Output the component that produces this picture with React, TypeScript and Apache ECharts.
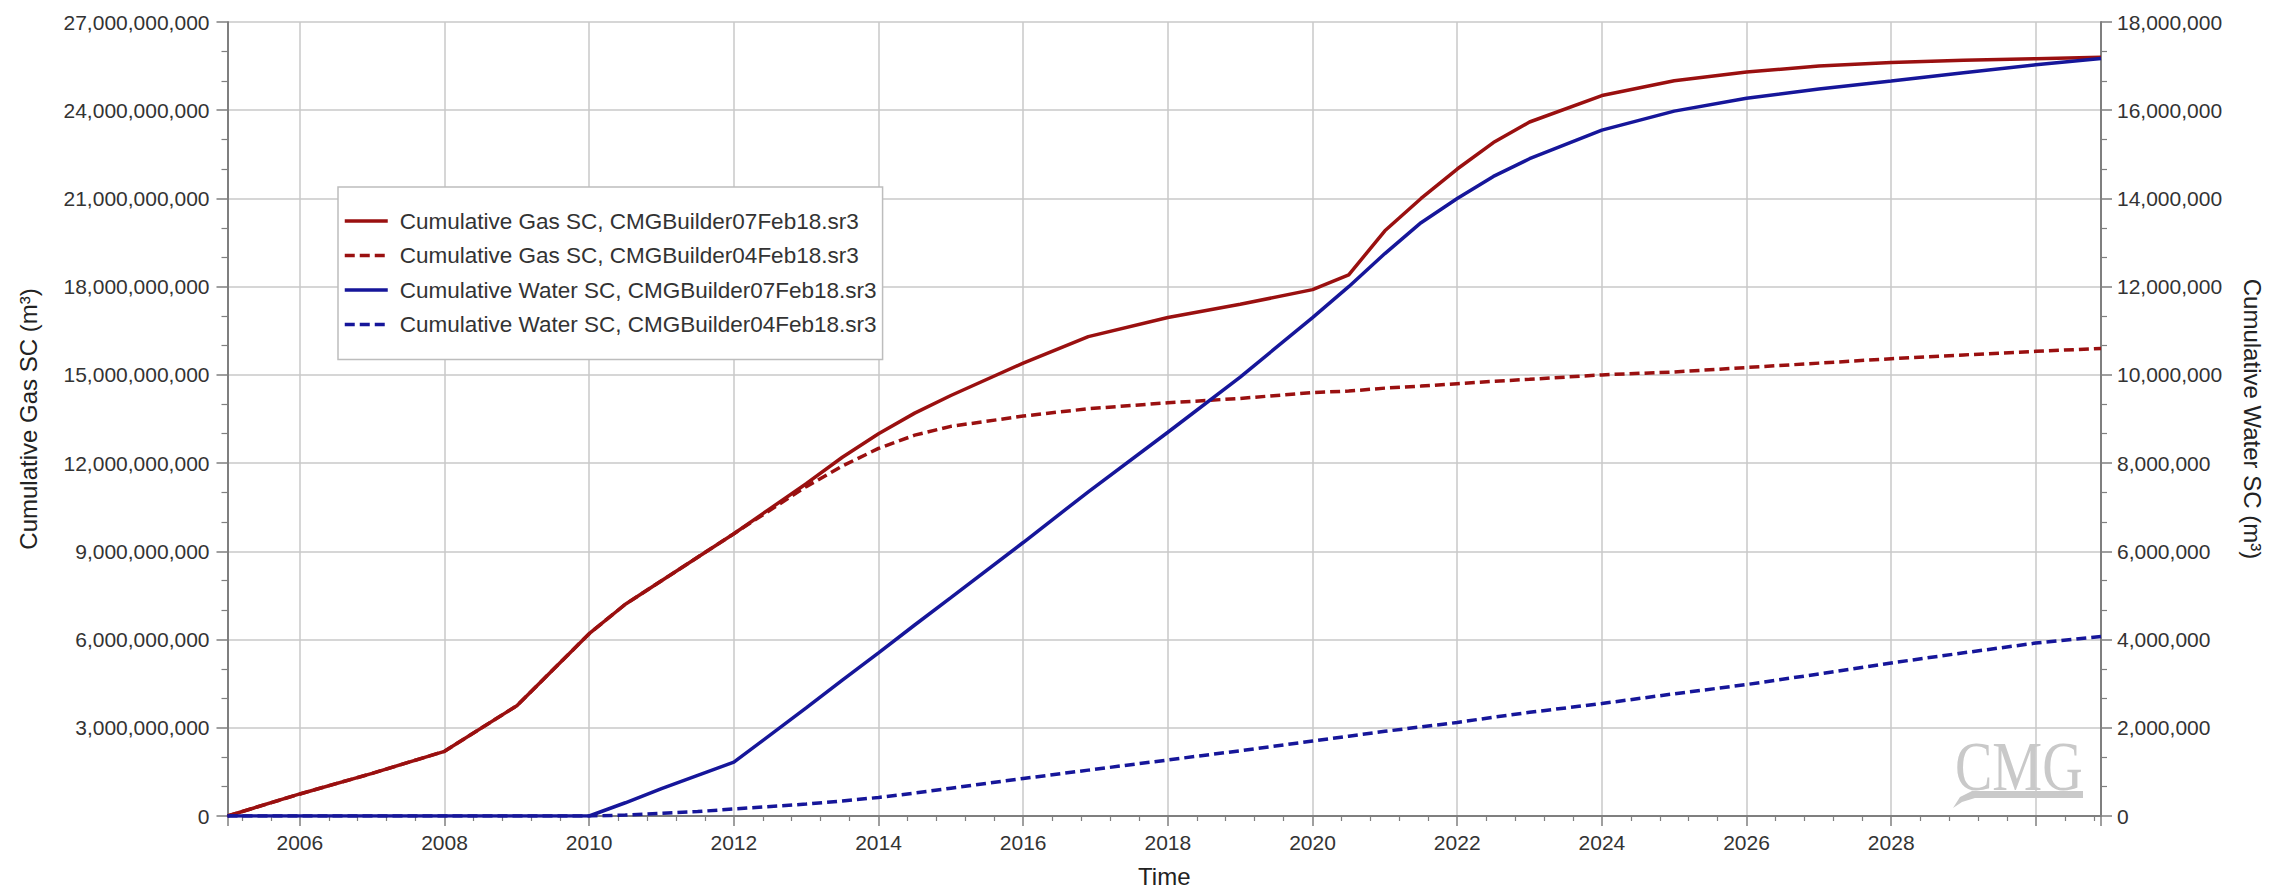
import React, { useEffect, useRef } from "react";
import * as echarts from "echarts";

const years = [2005, 2006, 2007, 2008, 2009, 2010, 2010.5, 2011, 2011.5, 2012, 2013, 2013.5, 2014, 2014.5, 2015, 2016, 2016.9, 2018, 2019, 2020, 2020.5, 2021, 2021.5, 2022, 2022.5, 2023, 2024, 2025, 2026, 2027, 2028, 2029, 2030, 2030.9];

// Cumulative gas, billions of m3
const gas07 = [0, 0.75, 1.45, 2.2, 3.75, 6.2, 7.2, 8.0, 8.8, 9.6, 11.3, 12.2, 13.0, 13.7, 14.3, 15.4, 16.3, 16.95, 17.4, 17.9, 18.4, 19.9, 21.0, 22.0, 22.9, 23.6, 24.5, 25.0, 25.3, 25.5, 25.62, 25.7, 25.75, 25.8];
const gas04 = [0, 0.75, 1.45, 2.2, 3.75, 6.2, 7.2, 8.0, 8.8, 9.6, 11.2, 11.9, 12.5, 12.95, 13.25, 13.6, 13.85, 14.05, 14.2, 14.4, 14.45, 14.55, 14.62, 14.7, 14.78, 14.85, 15.0, 15.1, 15.25, 15.4, 15.55, 15.68, 15.8, 15.9];
// Cumulative water, millions of m3
const water07 = [0, 0, 0, 0, 0, 0, 0.3, 0.62, 0.92, 1.22, 2.45, 3.08, 3.7, 4.33, 4.95, 6.2, 7.35, 8.7, 9.95, 11.3, 12.0, 12.75, 13.45, 14.0, 14.5, 14.9, 15.55, 15.98, 16.27, 16.48, 16.66, 16.85, 17.03, 17.17];
const water04 = [0, 0, 0, 0, 0, 0, 0.02, 0.06, 0.1, 0.16, 0.27, 0.34, 0.42, 0.52, 0.63, 0.85, 1.04, 1.27, 1.48, 1.7, 1.81, 1.92, 2.02, 2.12, 2.24, 2.35, 2.55, 2.77, 2.98, 3.22, 3.47, 3.7, 3.92, 4.07];

const seriesNames = [
  "Cumulative Gas SC, CMGBuilder07Feb18.sr3",
  "Cumulative Gas SC, CMGBuilder04Feb18.sr3",
  "Cumulative Water SC, CMGBuilder07Feb18.sr3",
  "Cumulative Water SC, CMGBuilder04Feb18.sr3",
];

const RED = "#9a1010";
const BLUE = "#16169a";
const FONT = "Arial, 'Liberation Sans', sans-serif";

function fmt(v: number) {
  return Math.round(v).toLocaleString("en-US");
}

export default function App() {
  const ref = useRef<HTMLDivElement>(null);
  useEffect(() => {
    if (!ref.current) return;
    const chart = echarts.init(ref.current, undefined, { renderer: "svg" });
    const axisColor = "#7f7f7f";
    const gridColor = "#c8c8c8";
    const mk = (i: number, arr: number[], scale: number, color: string, dashed: boolean, yIdx: number) => ({
      name: seriesNames[i],
      type: "line",
      yAxisIndex: yIdx,
      symbol: "none",
      data: years.map((y, k) => [y, arr[k] * scale]),
      lineStyle: { color, width: 3.5, type: dashed ? [10, 5] : "solid" },
      itemStyle: { color },
      z: 3,
    });
    chart.setOption({
      animation: false,
      backgroundColor: "#ffffff",
      textStyle: { fontFamily: FONT },
      grid: { left: 227.5, right: 168, top: 22, bottom: 73, containLabel: false },
      legend: {
        orient: "vertical",
        left: 338,
        top: 187,
        backgroundColor: "#ffffff",
        borderColor: "#bdbdbd",
        borderWidth: 1.5,
        padding: [22, 6, 23, 5],
        itemGap: 10.5,
        itemWidth: 43,
        itemHeight: 14,
        itemStyle: { opacity: 0 },
        lineStyle: { width: 3.5 },
        textStyle: { fontSize: 22.5, color: "#333", fontFamily: FONT, padding: [0, 0, 0, 7], lineHeight: 24 },
        data: seriesNames,
      },
      xAxis: {
        type: "value",
        min: 2005,
        max: 2030.9,
        splitNumber: 13,
        name: "Time",
        nameLocation: "middle",
        nameGap: 48,
        nameTextStyle: { fontSize: 24, color: "#222", fontFamily: FONT },
        axisLine: { show: true, onZero: false, lineStyle: { color: axisColor, width: 2 } },
        axisTick: { show: true, length: 10, lineStyle: { color: axisColor, width: 1.5 } },
        minorTick: { show: true, splitNumber: 5, length: 5, lineStyle: { color: axisColor, width: 1.2 } },
        axisLabel: {
          fontSize: 21,
          color: "#333",
          margin: 16,
          fontFamily: FONT,
          showMinLabel: false,
          showMaxLabel: false,
          formatter: (v: number) => (Math.abs(v - 2030) < 1e-6 || v % 2 !== 0 ? "" : String(v)),
        },
        splitLine: { show: true, lineStyle: { color: gridColor, width: 1.5 } },
      },
      yAxis: [
        {
          type: "value",
          min: 0,
          max: 27e9,
          interval: 3e9,
          position: "left",
          name: "Cumulative Gas SC (m³)",
          nameLocation: "middle",
          nameGap: 187,
          nameTextStyle: { fontSize: 24, color: "#222", fontFamily: FONT },
          axisLine: { show: true, lineStyle: { color: axisColor, width: 2 } },
          axisTick: { show: true, length: 11, lineStyle: { color: axisColor, width: 1.5 } },
          minorTick: { show: true, splitNumber: 3, length: 6, lineStyle: { color: axisColor, width: 1.2 } },
          axisLabel: { fontSize: 21, color: "#333", margin: 18, fontFamily: FONT, formatter: fmt },
          splitLine: { show: true, lineStyle: { color: gridColor, width: 1.5 } },
        },
        {
          type: "value",
          min: 0,
          max: 18e6,
          interval: 2e6,
          position: "right",
          name: "Cumulative Water SC (m³)",
          nameLocation: "middle",
          nameRotate: -90,
          nameGap: 139,
          nameTextStyle: { fontSize: 24, color: "#222", fontFamily: FONT },
          axisLine: { show: true, lineStyle: { color: axisColor, width: 2 } },
          axisTick: { show: true, length: 11, lineStyle: { color: axisColor, width: 1.5 } },
          minorTick: { show: true, splitNumber: 3, length: 6, lineStyle: { color: axisColor, width: 1.2 } },
          axisLabel: { fontSize: 21, color: "#333", margin: 16, fontFamily: FONT, formatter: fmt },
          splitLine: { show: false },
        },
      ],
      graphic: [
        {
          type: "text",
          x: 1955,
          y: 732,
          scaleX: 0.8,
          z: 1,
          style: { text: "CMG", fontSize: 70, fontFamily: "'Liberation Serif', serif", fill: "#c9c9c9" },
        },
        {
          type: "polygon",
          z: 1,
          shape: { points: [[1953, 808], [1960, 797], [1972, 791], [2083, 791], [2083, 798], [1975, 798], [1962, 802]] },
          style: { fill: "#c9c9c9" },
        },
      ],
      series: [
        mk(0, gas07, 1e9, RED, false, 0),
        mk(1, gas04, 1e9, RED, true, 0),
        mk(2, water07, 1e6, BLUE, false, 1),
        mk(3, water04, 1e6, BLUE, true, 1),
      ],
    });
    return () => chart.dispose();
  }, []);
  return (
    <div
      ref={ref}
      style={{ position: "absolute", left: 0, top: 0, width: 2272, height: 893, background: "#fff" }}
    />
  );
}
